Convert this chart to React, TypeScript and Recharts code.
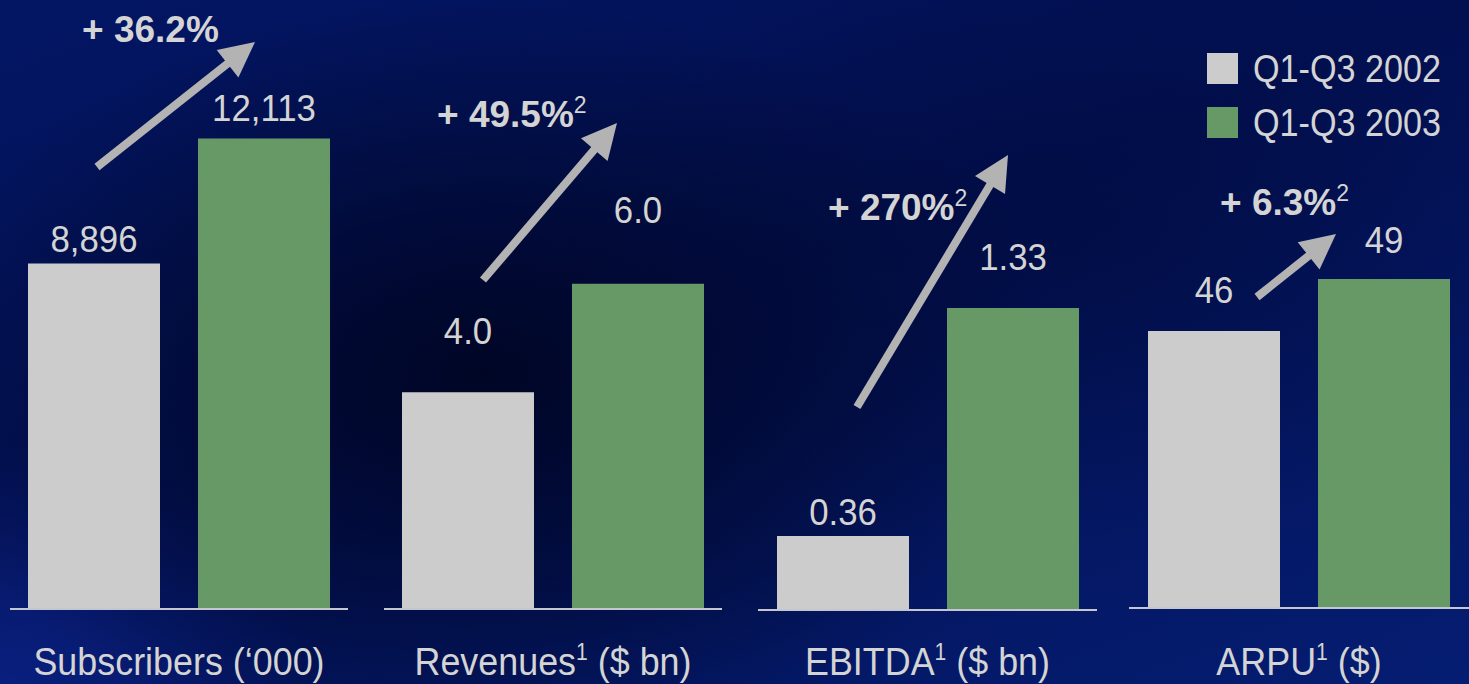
import React from 'react';
import { BarChart, Bar, XAxis, YAxis, LabelList, Legend } from 'recharts';

// ---------- data ----------
const categories = ['Subscribers', 'Revenues', 'EBITDA', 'ARPU'];
const categoryUnits = ['(\u2018000)', '($ bn)', '($ bn)', '($)'];
const categoryNotes = ['', '1', '1', '1'];
const seriesNames = ['Q1-Q3 2002', 'Q1-Q3 2003'];
const values2002 = [8896, 4.0, 0.36, 46];
const values2003 = [12113, 6.0, 1.33, 49];
const changeLabels = ['+ 36.2%', '+ 49.5%', '+ 270%', '+ 6.3%'];
const changeNotes = ['', '2', '2', '2'];
const valueDecimals = [0, 1, 2, 0];

// ---------- styles / layout ----------
const FONT = "'Liberation Sans', Arial, sans-serif";
const TEXT = '#d4d4d4';
const GRAY = '#cccccc';
const GREEN = '#669966';
const ARROW = '#b3b3b3';
const W = 1469;
const H = 684;
const TOP = 40;

const PANELS = [
  { left: 10, width: 338, axisH: 75, domain: [0, 14650], gaps: [11, 18], arrow: [87, 167, 245, 42], change: [72, 42] },
  { left: 384, width: 338, axisH: 75, domain: [0, 10.5], gaps: [48, 61], arrow: [99, 280, 233, 123], change: [53, 127] },
  { left: 758, width: 339, axisH: 74, domain: [0.045, 2.47], gaps: [11, 38], arrow: [99, 407, 250, 155], change: [70, 220] },
  { left: 1129, width: 340, axisH: 76, domain: [30, 62.8], gaps: [28, 26], arrow: [128, 297, 207, 234], change: [91, 215] },
];

const fmt = (v: number, d: number) =>
  v.toLocaleString('en-US', { minimumFractionDigits: d, maximumFractionDigits: d });

// condensed text: regular font squeezed horizontally
const SText = ({ x, y, sx, anchor, size, weight, children }: any) => (
  <g transform={`translate(${x},${y}) scale(${sx},1)`}>
    <text x={0} y={0} textAnchor={anchor || 'start'} fill={TEXT} fontFamily={FONT} fontSize={size} fontWeight={weight || 'normal'}>
      {children}
    </text>
  </g>
);

const makeValueLabel = (panel: number, series: number) => (props: any) => {
  const vb = props.viewBox || {};
  const x = Number(props.x ?? vb.x);
  const y = Number(props.y ?? vb.y);
  const w = Number(props.width ?? vb.width);
  const v = Number(props.value);
  return (
    <SText x={x + w / 2} y={y - PANELS[panel].gaps[series]} sx={0.94} anchor="middle" size={37}>
      {fmt(v, valueDecimals[panel])}
    </SText>
  );
};

const CategoryTick = (props: any) => {
  const { x, payload } = props;
  const i = categories.indexOf(payload.value);
  const note = categoryNotes[i];
  return (
    <SText x={x} y={675} sx={0.92} anchor="middle" size={39}>
      <tspan>{categories[i]}</tspan>
      {note ? (
        <tspan dy={-15} fontSize={23}>
          {note}
        </tspan>
      ) : null}
      <tspan dy={note ? 15 : 0}>{' ' + categoryUnits[i]}</tspan>
    </SText>
  );
};

const LEG_PAD = 12;
const LegendContent = (props: any) => {
  const payload = props.payload || [];
  return (
    <svg width={260} height={112} style={{ display: 'block' }}>
      {payload.map((p: any, k: number) => (
        <g key={k}>
          <rect x={0} y={LEG_PAD + k * 54} width={31} height={31} fill={p.color} />
          <SText x={46} y={LEG_PAD + k * 54 + 29} sx={0.9} size={38}>
            {p.value}
          </SText>
        </g>
      ))}
    </svg>
  );
};

const Arrow = ({ x1, y1, x2, y2 }: { x1: number; y1: number; x2: number; y2: number }) => {
  const dx = x2 - x1;
  const dy = y2 - y1;
  const len = Math.sqrt(dx * dx + dy * dy);
  const ux = dx / len;
  const uy = dy / len;
  const L = 35;
  const hw = 17.5;
  const bx = x2 - ux * L;
  const by = y2 - uy * L;
  const nx = -uy;
  const ny = ux;
  return (
    <g>
      <line x1={x1} y1={y1} x2={bx + ux * 2} y2={by + uy * 2} stroke={ARROW} strokeWidth={8} />
      <polygon
        points={`${x2},${y2} ${bx + nx * hw},${by + ny * hw} ${bx - nx * hw},${by - ny * hw}`}
        fill={ARROW}
      />
    </g>
  );
};

export default function App() {
  return (
    <div
      style={{
        position: 'absolute',
        left: 0,
        top: 0,
        width: W,
        height: H,
        overflow: 'hidden',
        background:
          'radial-gradient(ellipse 40% 55% at 33% 55%, rgba(0,5,35,0.95) 0%, rgba(0,8,45,0.55) 55%, rgba(0,8,45,0) 100%),' +
          'radial-gradient(ellipse 35% 45% at 72% 35%, rgba(0,8,50,0.45) 0%, rgba(0,8,50,0) 100%),' +
          'radial-gradient(ellipse 22% 35% at 0% 100%, rgba(12,36,140,0.75) 0%, rgba(12,36,140,0) 100%),' +
          'linear-gradient(160deg, #031664 0%, #021052 45%, #051d72 100%)',
      }}
    >
      {PANELS.map((p, i) => {
        const data = [{ cat: categories[i], y2002: values2002[i], y2003: values2003[i] }];
        return (
          <div key={i} style={{ position: 'absolute', left: p.left, top: 0 }}>
            <BarChart
              width={p.width}
              height={H}
              data={data}
              margin={{ top: TOP, right: 0, bottom: 0, left: 0 }}
              barGap={38}
              barSize={132}
            >
              <XAxis
                dataKey="cat"
                height={p.axisH}
                tickLine={false}
                axisLine={{ stroke: '#c4c6d0', strokeWidth: 2 }}
                tick={<CategoryTick />}
                interval={0}
              />
              <YAxis hide domain={p.domain} allowDataOverflow type="number" />
              {i === 3 ? (
                <Legend
                  layout="horizontal"
                  align="center"
                  verticalAlign="middle"
                  content={<LegendContent />}
                  wrapperStyle={{ left: 78, top: 53 - LEG_PAD, width: 260, height: 112 }}
                />
              ) : null}
              <Bar dataKey="y2002" name={seriesNames[0]} fill={GRAY} isAnimationActive={false}>
                <LabelList dataKey="y2002" content={makeValueLabel(i, 0)} />
              </Bar>
              <Bar dataKey="y2003" name={seriesNames[1]} fill={GREEN} isAnimationActive={false}>
                <LabelList dataKey="y2003" content={makeValueLabel(i, 1)} />
              </Bar>
            </BarChart>
          </div>
        );
      })}
      <svg
        width={W}
        height={H}
        style={{ position: 'absolute', left: 0, top: 0, pointerEvents: 'none' }}
      >
        {PANELS.map((p, i) => (
          <g key={i}>
            <Arrow x1={p.left + p.arrow[0]} y1={p.arrow[1]} x2={p.left + p.arrow[2]} y2={p.arrow[3]} />
            <text
              x={p.left + p.change[0]}
              y={p.change[1]}
              fill={TEXT}
              fontFamily={FONT}
              fontWeight="bold"
              fontSize={37}
            >
              <tspan>{changeLabels[i]}</tspan>
              {changeNotes[i] ? (
                <tspan dy={-14} fontSize={23} fontWeight="normal">
                  {changeNotes[i]}
                </tspan>
              ) : null}
            </text>
          </g>
        ))}
      </svg>
    </div>
  );
}
